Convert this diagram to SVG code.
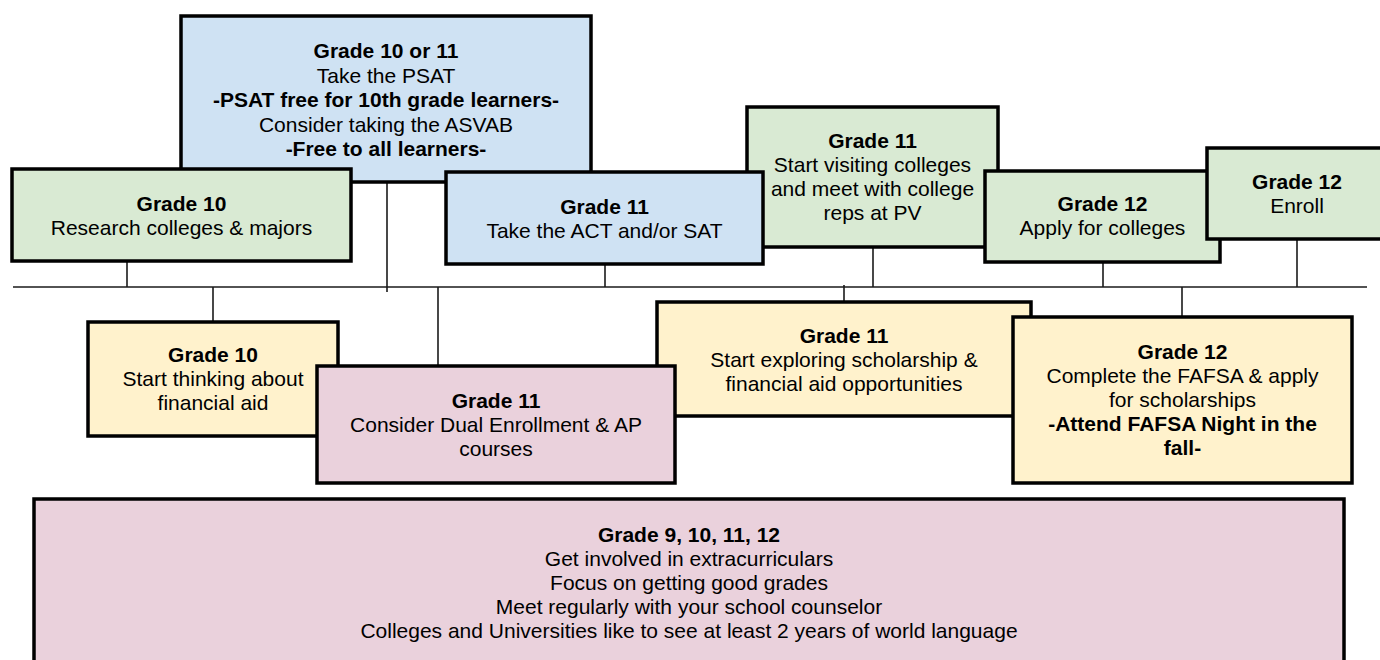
<svg xmlns="http://www.w3.org/2000/svg" width="1380" height="660" viewBox="0 0 1380 660">
<style>
.box{stroke:#000;stroke-width:3.5;stroke-linejoin:miter}
.blue{fill:#cfe2f3}.green{fill:#d9ead3}.yellow{fill:#fff2cc}.pink{fill:#ead1dc}
text{font-family:"Liberation Sans",Arial,sans-serif;font-size:21px;fill:#000;text-anchor:middle}
.b{font-weight:bold}
.ln{stroke:#1a1a1a;stroke-width:1.6;fill:none}
</style>
<rect width="1380" height="660" fill="#fff"/>
<g id="connectors">
<line class="ln" x1="13" y1="287" x2="1367" y2="287"/>
<line class="ln" x1="127" y1="261" x2="127" y2="287"/>
<line class="ln" x1="387" y1="182" x2="387" y2="292"/>
<line class="ln" x1="605" y1="264" x2="605" y2="287"/>
<line class="ln" x1="873" y1="247" x2="873" y2="287"/>
<line class="ln" x1="1103" y1="262" x2="1103" y2="287"/>
<line class="ln" x1="1297" y1="239" x2="1297" y2="287"/>
<line class="ln" x1="213" y1="287" x2="213" y2="322"/>
<line class="ln" x1="438" y1="287" x2="438" y2="366"/>
<line class="ln" x1="844" y1="285" x2="844" y2="302"/>
<line class="ln" x1="1182" y1="287" x2="1182" y2="317"/>
</g>
<g id="n-psat">
<rect class="box blue" x="181" y="16" width="410" height="166"/>
<text x="386" y="58" class="b">Grade 10 or 11</text>
<text x="386" y="82.5">Take the PSAT</text>
<text x="386" y="107" class="b">-PSAT free for 10th grade learners-</text>
<text x="386" y="131.5">Consider taking the ASVAB</text>
<text x="386" y="156" class="b">-Free to all learners-</text>
</g>
<g id="n-research">
<rect class="box green" x="12" y="169" width="339" height="92"/>
<text x="181.5" y="211" class="b">Grade 10</text>
<text x="181.5" y="235">Research colleges &amp; majors</text>
</g>
<g id="n-visit">
<rect class="box green" x="747" y="107" width="251" height="140"/>
<text x="872.5" y="148" class="b">Grade 11</text>
<text x="872.5" y="172">Start visiting colleges</text>
<text x="872.5" y="196">and meet with college</text>
<text x="872.5" y="220">reps at PV</text>
</g>
<g id="n-act">
<rect class="box blue" x="446" y="172" width="317" height="92"/>
<text x="604.5" y="214" class="b">Grade 11</text>
<text x="604.5" y="238">Take the ACT and/or SAT</text>
</g>
<g id="n-apply">
<rect class="box green" x="985" y="171" width="235" height="91"/>
<text x="1102.5" y="211" class="b">Grade 12</text>
<text x="1102.5" y="235">Apply for colleges</text>
</g>
<g id="n-enroll">
<rect class="box green" x="1207" y="148" width="182" height="91"/>
<text x="1297" y="189" class="b">Grade 12</text>
<text x="1297" y="213">Enroll</text>
</g>
<g id="n-finaid">
<rect class="box yellow" x="88" y="322" width="250" height="114"/>
<text x="213" y="362" class="b">Grade 10</text>
<text x="213" y="386">Start thinking about</text>
<text x="213" y="410">financial aid</text>
</g>
<g id="n-scholar">
<rect class="box yellow" x="657" y="302" width="374" height="114"/>
<text x="844" y="343" class="b">Grade 11</text>
<text x="844" y="367">Start exploring scholarship &amp;</text>
<text x="844" y="391">financial aid opportunities</text>
</g>
<g id="n-dual">
<rect class="box pink" x="317" y="366" width="358" height="117"/>
<text x="496" y="408" class="b">Grade 11</text>
<text x="496" y="432">Consider Dual Enrollment &amp; AP</text>
<text x="496" y="456">courses</text>
</g>
<g id="n-fafsa">
<rect class="box yellow" x="1013" y="317" width="339" height="166"/>
<text x="1182.5" y="359" class="b">Grade 12</text>
<text x="1182.5" y="383">Complete the FAFSA &amp; apply</text>
<text x="1182.5" y="407">for scholarships</text>
<text x="1182.5" y="431" class="b">-Attend FAFSA Night in the</text>
<text x="1182.5" y="455" class="b">fall-</text>
</g>
<g id="n-all">
<rect class="box pink" x="34" y="499" width="1310" height="175"/>
<text x="689" y="542" class="b">Grade 9, 10, 11, 12</text>
<text x="689" y="566">Get involved in extracurriculars</text>
<text x="689" y="590">Focus on getting good grades</text>
<text x="689" y="614">Meet regularly with your school counselor</text>
<text x="689" y="638">Colleges and Universities like to see at least 2 years of world language</text>
</g>
</svg>
